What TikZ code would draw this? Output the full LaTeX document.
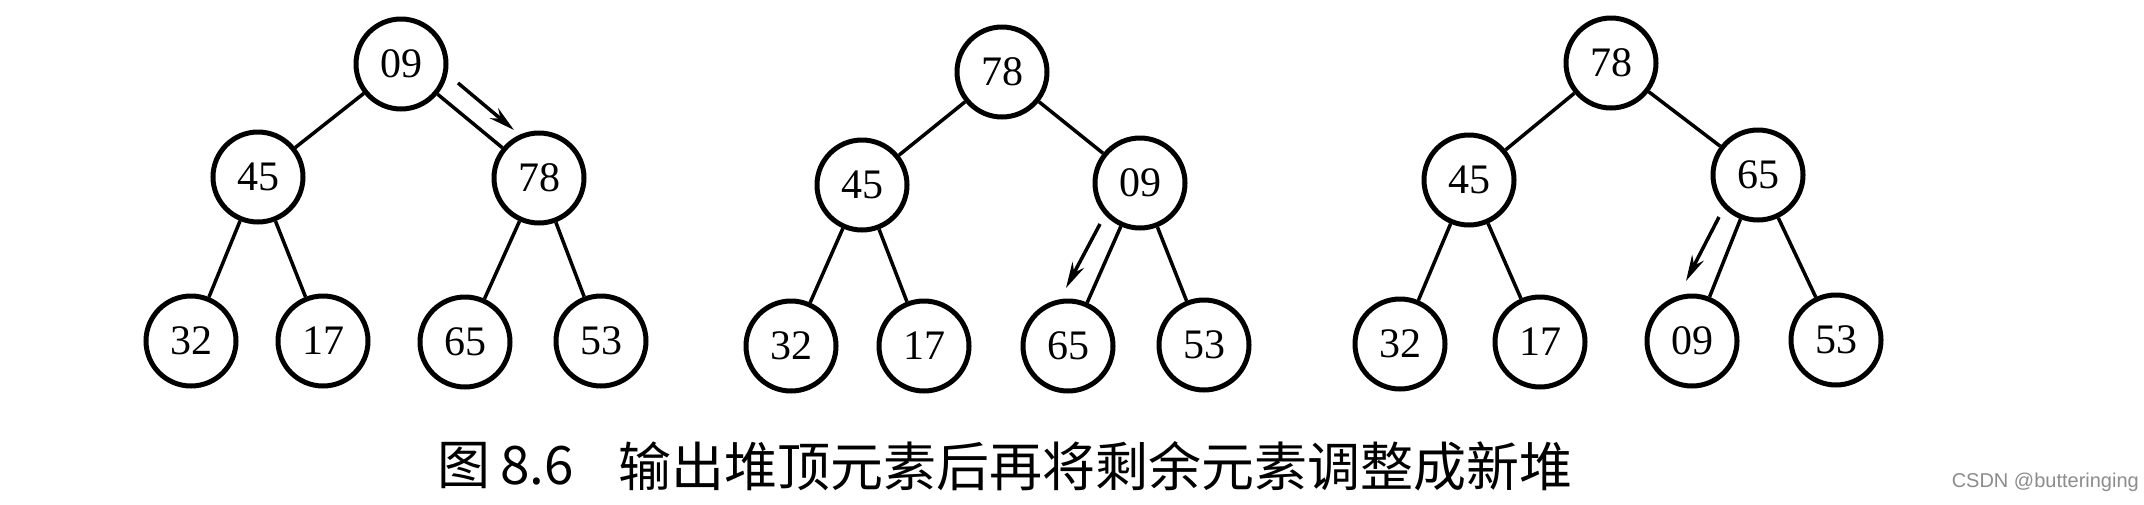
\documentclass[tikz,border=0pt]{standalone}
\usepackage{fontspec}
\setmainfont{Liberation Serif}
\newfontfamily\cjk{Noto Sans CJK SC}
\newfontfamily\wmfont{Liberation Sans}
\usetikzlibrary{arrows.meta}
\begin{document}
\begin{tikzpicture}[x=1pt,y=-1pt,
  hnode/.style={circle,draw=black,line width=5pt,minimum size=90pt,inner sep=0pt,
    font=\fontsize{42}{44}\selectfont},
  edge/.style={line width=3.5pt},
  movearrow/.style={line width=3.5pt,-{Stealth[length=26pt,width=13pt]}},
  captext/.style={anchor=west,inner sep=0pt,font=\cjk\fontsize{53}{58}\selectfont}
]
\useasboundingbox (0,0) rectangle (2144,504);
\fill[white] (0,0) rectangle (2144,504);
% tree 1
\node[hnode] (a1) at (401,64) {09};
\node[hnode] (a2) at (258,177) {45};
\node[hnode] (a3) at (539,178) {78};
\node[hnode] (a4) at (191,341) {32};
\node[hnode] (a5) at (323,341) {17};
\node[hnode] (a6) at (465,342) {65};
\node[hnode] (a7) at (601,341) {53};
\draw[edge] (a1) -- (a2);
\draw[edge] (a1) -- (a3);
\draw[edge] (a2) -- (a4);
\draw[edge] (a2) -- (a5);
\draw[edge] (a3) -- (a6);
\draw[edge] (a3) -- (a7);
\coordinate (p1s) at (458,83);
\coordinate (p1e) at (514,130);
\draw[movearrow] (p1s) -- (p1e);
% tree 2
\node[hnode] (b1) at (1002,72) {78};
\node[hnode] (b2) at (862,185) {45};
\node[hnode] (b3) at (1140,183) {09};
\node[hnode] (b4) at (791,346) {32};
\node[hnode] (b5) at (924,346) {17};
\node[hnode] (b6) at (1068,346) {65};
\node[hnode] (b7) at (1204,345) {53};
\draw[edge] (b1) -- (b2);
\draw[edge] (b1) -- (b3);
\draw[edge] (b2) -- (b4);
\draw[edge] (b2) -- (b5);
\draw[edge] (b3) -- (b6);
\draw[edge] (b3) -- (b7);
\coordinate (p2s) at (1100,224);
\coordinate (p2e) at (1066,288);
\draw[movearrow] (p2s) -- (p2e);
% tree 3
\node[hnode] (c1) at (1611,63) {78};
\node[hnode] (c2) at (1469,180) {45};
\node[hnode] (c3) at (1758,175) {65};
\node[hnode] (c4) at (1400,344) {32};
\node[hnode] (c5) at (1540,342) {17};
\node[hnode] (c6) at (1692,341) {09};
\node[hnode] (c7) at (1836,340) {53};
\draw[edge] (c1) -- (c2);
\draw[edge] (c1) -- (c3);
\draw[edge] (c2) -- (c4);
\draw[edge] (c2) -- (c5);
\draw[edge] (c3) -- (c6);
\draw[edge] (c3) -- (c7);
\coordinate (p3s) at (1719,217);
\coordinate (p3e) at (1686,281);
\draw[movearrow] (p3s) -- (p3e);
% caption
\node[captext] (cap1) at (437,466) {图};
\node[captext] (cap2) at (500,466) {8.6};
\node[captext] (cap3) at (618,466) {输出堆顶元素后再将剩余元素调整成新堆};
\node[anchor=east,inner sep=0pt,text=black!45,font=\wmfont\fontsize{20}{22}\selectfont] (wm) at (2139,482) {CSDN @butteringing};
\end{tikzpicture}
\end{document}
